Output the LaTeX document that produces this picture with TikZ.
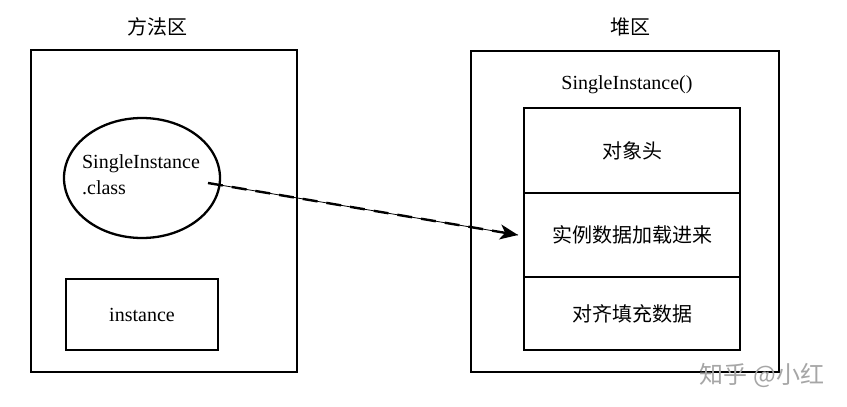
\documentclass[tikz,border=0pt]{standalone}
\usepackage{fontspec}
\setmainfont{Liberation Serif}
\newfontfamily\cjk{Noto Sans CJK SC}
\usetikzlibrary{shapes.geometric,arrows.meta}
\begin{document}
\begin{tikzpicture}[x=1pt,y=-1pt,
  box/.style={draw,line width=2.3pt,rectangle,inner sep=0pt},
  lbl/.style={font=\fontsize{20}{24}\selectfont,inner sep=0pt},
  zh/.style={font=\fontsize{20}{24}\selectfont\cjk,inner sep=0pt},
  row/.style={draw,line width=2.3pt,minimum width=216pt,minimum height=#1,inner sep=0pt,font=\fontsize{20}{24}\selectfont\cjk}]
\useasboundingbox[fill=white] (0,0) rectangle (847,407);
% titles
\node[zh] (t1) at (157,27) {方法区};
\node[zh] (t2) at (630,27) {堆区};
% outer boxes
\node[box,minimum width=266pt,minimum height=322pt] (method) at (164,211) {};
\node[box,minimum width=308pt,minimum height=321pt] (heap) at (625,211.5) {};
% method area contents
\node[draw,line width=2.3pt,ellipse,minimum width=156pt,minimum height=120pt,inner sep=0pt] (cls) at (142,178) {};
\node[lbl,align=left,font=\fontsize{20}{26}\selectfont] (clstxt) at (141,175) {SingleInstance\\.class};
\node[box,minimum width=152pt,minimum height=71pt,font=\fontsize{20}{24}\selectfont] (inst) at (142,314.5) {instance};
% heap contents
\node[lbl] (ctor) at (627,85) {SingleInstance()};
\node[row=85pt] (r1) at (632,150.5) {对象头};
\node[row=84pt] (r2) at (632,235) {实例数据加载进来};
\node[row=73pt] (r3) at (632,313.5) {对齐填充数据};
% arrow
\coordinate (a0) at (208,183);
\coordinate (a1) at (518,235);
\draw[line width=0.8pt] (a0) -- (a1);
\draw[line width=2.4pt,dash pattern=on 15pt off 9pt,-{Stealth[length=18pt,width=15pt,inset=5pt]}] (a0) -- (a1);
% watermark
\node[font=\fontsize{24}{28}\selectfont\cjk,text=black!35,inner sep=0pt] (wm) at (762,375) {知乎 @小红};
\end{tikzpicture}
\end{document}
